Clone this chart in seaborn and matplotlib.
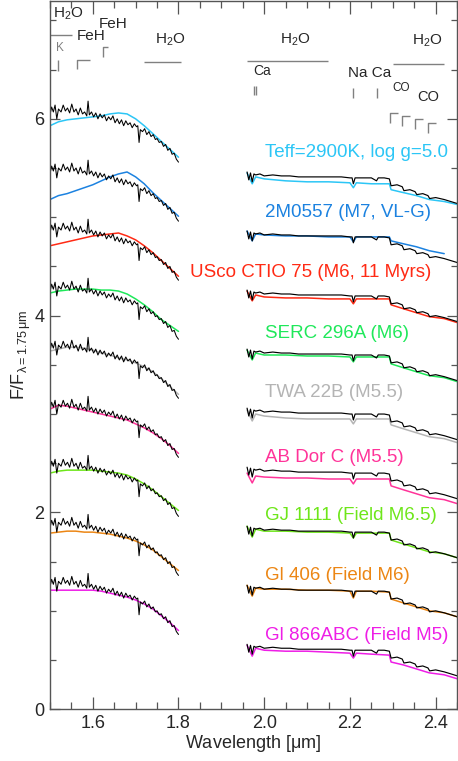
import numpy as np
import matplotlib
matplotlib.use("Agg")
import matplotlib.pyplot as plt
from matplotlib.ticker import MultipleLocator
import seaborn as sns

sns.set_theme(style="ticks")
plt.rcParams["font.family"] = ["Liberation Sans", "DejaVu Sans"]
plt.rcParams["mathtext.fontset"] = "custom"
plt.rcParams["mathtext.rm"] = "Liberation Sans"
plt.rcParams["mathtext.it"] = "Liberation Sans:italic"
plt.rcParams["mathtext.default"] = "rm"

# ---------------- data ----------------
NAMES = ["Teff=2900K, log g=5.0", "2M0557 (M7, VL-G)", "USco CTIO 75 (M6, 11 Myrs)",
         "SERC 296A (M6)", "TWA 22B (M5.5)", "AB Dor C (M5.5)",
         "GJ 1111 (Field M6.5)", "Gl 406 (Field M6)", "Gl 866ABC (Field M5)"]
COLORS = ["#2cc6f6", "#1c82e0", "#ff2a14", "#1fe85a", "#b4b4b4", "#ff3399",
          "#6ee61a", "#ec8614", "#ee1ee6"]
OFFSETS = [4.8, 4.2, 3.6, 3.0, 2.4, 1.8, 1.2, 0.6, 0.0]

# object spectrum (black), normalized at 1.75 um
H_WAVE_OBJ = [1.500, 1.504, 1.508, 1.512, 1.516, 1.520, 1.526, 1.531, 1.536, 1.541,
              1.546, 1.551, 1.556, 1.561, 1.566, 1.571, 1.576, 1.581, 1.586, 1.589,
              1.592, 1.597, 1.602, 1.607, 1.612, 1.617, 1.622, 1.627, 1.632, 1.637,
              1.642, 1.647, 1.652, 1.657, 1.662, 1.667, 1.672, 1.677, 1.682, 1.687,
              1.692, 1.697, 1.702, 1.705, 1.708, 1.711, 1.716, 1.721, 1.726, 1.731,
              1.736, 1.741, 1.746, 1.750, 1.755, 1.760, 1.765, 1.770, 1.775, 1.780,
              1.785, 1.790, 1.795, 1.800]
H_FLUX_OBJ = [1.24, 1.32, 1.27, 1.34, 1.20, 1.30, 1.27, 1.34, 1.28, 1.31,
              1.26, 1.35, 1.27, 1.30, 1.24, 1.31, 1.25, 1.27, 1.23, 1.38,
              1.24, 1.27, 1.22, 1.26, 1.20, 1.25, 1.21, 1.24, 1.18, 1.22,
              1.19, 1.23, 1.16, 1.20, 1.15, 1.19, 1.13, 1.18, 1.14, 1.16,
              1.11, 1.15, 1.12, 1.13, 0.96, 1.09, 1.07, 1.10, 1.04, 1.07,
              1.02, 1.04, 0.99, 1.00, 0.96, 0.97, 0.92, 0.94, 0.88, 0.90,
              0.84, 0.85, 0.79, 0.76]
K_WAVE_OBJ = [1.960, 1.964, 1.968, 1.972, 1.976, 1.980, 1.990, 2.000, 2.020, 2.040,
              2.060, 2.080, 2.100, 2.120, 2.140, 2.160, 2.180, 2.200, 2.205, 2.208,
              2.212, 2.230, 2.250, 2.262, 2.266, 2.280, 2.292, 2.296, 2.310, 2.322,
              2.326, 2.340, 2.352, 2.356, 2.370, 2.382, 2.386, 2.400, 2.420, 2.435, 2.450]
K_FLUX_OBJ = [0.66, 0.58, 0.65, 0.56, 0.64, 0.63, 0.64, 0.62, 0.63, 0.62,
              0.62, 0.61, 0.61, 0.61, 0.61, 0.61, 0.61, 0.60, 0.60, 0.54,
              0.60, 0.60, 0.60, 0.57, 0.60, 0.60, 0.59, 0.52, 0.53, 0.51,
              0.47, 0.48, 0.46, 0.43, 0.44, 0.42, 0.39, 0.40, 0.38, 0.36, 0.34]

# comparison spectra (coloured)
H_WAVE_CMP = [1.50, 1.52, 1.54, 1.56, 1.58, 1.60, 1.62, 1.64, 1.66, 1.68,
              1.70, 1.72, 1.74, 1.76, 1.78, 1.80]
H_TEFF   = [1.13, 1.17, 1.19, 1.20, 1.21, 1.22, 1.23, 1.25, 1.26, 1.25, 1.20, 1.13, 1.05, 0.97, 0.89, 0.81]
H_2M0557 = [0.98, 1.02, 1.04, 1.07, 1.10, 1.13, 1.17, 1.21, 1.24, 1.26, 1.21, 1.14, 1.05, 0.97, 0.89, 0.81]
H_USCO   = [1.11, 1.13, 1.15, 1.17, 1.19, 1.21, 1.22, 1.23, 1.24, 1.21, 1.17, 1.11, 1.04, 0.96, 0.88, 0.80]
H_SERC   = [1.23, 1.25, 1.26, 1.27, 1.27, 1.27, 1.26, 1.26, 1.25, 1.22, 1.17, 1.11, 1.04, 0.96, 0.90, 0.84]
H_TWA    = [1.24, 1.26, 1.28, 1.28, 1.27, 1.25, 1.22, 1.20, 1.17, 1.15, 1.12, 1.08, 1.03, 0.96, 0.88, 0.80]
H_ABDOR  = [1.25, 1.29, 1.28, 1.26, 1.24, 1.22, 1.20, 1.18, 1.16, 1.14, 1.10, 1.06, 1.01, 0.95, 0.88, 0.80]
H_GJ1111 = [1.20, 1.22, 1.23, 1.23, 1.23, 1.23, 1.22, 1.21, 1.20, 1.18, 1.14, 1.09, 1.03, 0.96, 0.89, 0.82]
H_GL406  = [1.19, 1.20, 1.21, 1.21, 1.20, 1.20, 1.19, 1.18, 1.16, 1.14, 1.11, 1.07, 1.02, 0.95, 0.88, 0.81]
H_GL866  = [1.21, 1.21, 1.21, 1.21, 1.21, 1.21, 1.20, 1.18, 1.16, 1.14, 1.11, 1.07, 1.02, 0.95, 0.88, 0.80]

K_WAVE_CMP = [1.960, 1.972, 1.980, 2.000, 2.050, 2.100, 2.150, 2.200, 2.208, 2.215,
              2.250, 2.292, 2.296, 2.325, 2.355, 2.385, 2.420, 2.450]
K_TEFF   = [0.65, 0.54, 0.61, 0.59, 0.57, 0.56, 0.56, 0.55, 0.50, 0.55, 0.54, 0.54, 0.48, 0.45, 0.42, 0.38, 0.36, 0.33]
K_2M0557 = [0.66, 0.56, 0.63, 0.62, 0.61, 0.61, 0.60, 0.60, 0.55, 0.60, 0.60, 0.60, 0.56, 0.53, 0.50, 0.46, 0.43, np.nan]
K_USCO   = [0.65, 0.55, 0.61, 0.59, 0.58, 0.58, 0.57, 0.57, 0.52, 0.57, 0.57, 0.57, 0.51, 0.47, 0.43, 0.39, 0.37, 0.33]
K_SERC   = [0.65, 0.55, 0.62, 0.60, 0.60, 0.59, 0.59, 0.58, 0.53, 0.58, 0.58, 0.58, 0.51, 0.47, 0.43, 0.39, 0.37, 0.33]
K_TWA    = [0.64, 0.53, 0.60, 0.58, 0.56, 0.55, 0.55, 0.55, 0.50, 0.55, 0.55, 0.55, 0.49, 0.45, 0.41, 0.37, 0.35, 0.31]
K_ABDOR  = [0.60, 0.50, 0.57, 0.56, 0.55, 0.55, 0.54, 0.54, 0.49, 0.54, 0.54, 0.54, 0.47, 0.43, 0.39, 0.35, 0.33, 0.29]
K_GJ1111 = [0.66, 0.55, 0.63, 0.61, 0.61, 0.60, 0.60, 0.59, 0.54, 0.59, 0.59, 0.59, 0.52, 0.48, 0.44, 0.40, 0.38, 0.34]
K_GL406  = [0.66, 0.55, 0.63, 0.62, 0.62, 0.61, 0.61, 0.60, 0.53, 0.60, 0.60, 0.59, 0.52, 0.48, 0.44, 0.40, 0.38, 0.34]
K_GL866  = [0.65, 0.54, 0.62, 0.60, 0.59, 0.59, 0.58, 0.57, 0.52, 0.57, 0.56, 0.55, 0.48, 0.45, 0.41, 0.37, 0.35, 0.31]

H_CMP = [H_TEFF, H_2M0557, H_USCO, H_SERC, H_TWA, H_ABDOR, H_GJ1111, H_GL406, H_GL866]
K_CMP = [K_TEFF, K_2M0557, K_USCO, K_SERC, K_TWA, K_ABDOR, K_GJ1111, K_GL406, K_GL866]

# label anchor (left edge wavelength, y value)
LABEL_X = [2.002, 2.002, 1.827, 2.002, 2.002, 2.002, 2.002, 2.002, 2.002]
LABEL_Y = [5.66, 5.05, 4.44, 3.82, 3.22, 2.56, 1.97, 1.36, 0.75]

# ---------------- figure ----------------
fig = plt.figure(figsize=(4.58, 7.61), dpi=100)
ax = fig.add_axes([0.109, 0.068, 0.889, 0.931])

for i in range(len(NAMES)):
    off = OFFSETS[i]
    c = COLORS[i]
    sns.lineplot(x=H_WAVE_CMP, y=np.array(H_CMP[i]) + off, ax=ax, color=c, lw=1.1,
                 estimator=None, sort=False)
    sns.lineplot(x=K_WAVE_CMP, y=np.array(K_CMP[i]) + off, ax=ax, color=c, lw=1.1,
                 estimator=None, sort=False)
    sns.lineplot(x=H_WAVE_OBJ, y=np.array(H_FLUX_OBJ) + off, ax=ax, color="black", lw=0.75,
                 estimator=None, sort=False)
    sns.lineplot(x=K_WAVE_OBJ, y=np.array(K_FLUX_OBJ) + off, ax=ax, color="black", lw=0.85,
                 estimator=None, sort=False)
    ax.text(LABEL_X[i], LABEL_Y[i], NAMES[i], color=c, fontsize=13.5,
            ha="left", va="center")

# ---------------- feature annotations ----------------
G = "#808080"
def seg(xs, ys):
    ax.plot(xs, ys, color=G, lw=1.0, solid_capstyle="butt")

ax.text(1.507, 7.07, "H$_2$O", fontsize=11, ha="left", va="center")
seg([1.50, 1.551], [6.85, 6.85])
ax.text(1.514, 6.72, "K", fontsize=8.5, color=G, ha="left", va="center")
seg([1.519, 1.519], [6.60, 6.49])
ax.text(1.563, 6.84, "FeH", fontsize=11, ha="left", va="center")
seg([1.563, 1.563, 1.593], [6.51, 6.60, 6.60])
ax.text(1.614, 6.96, "FeH", fontsize=11, ha="left", va="center")
seg([1.624, 1.624, 1.635], [6.63, 6.73, 6.73])
ax.text(1.745, 6.80, "H$_2$O", fontsize=11, ha="left", va="center")
seg([1.719, 1.806], [6.58, 6.58])

ax.text(2.037, 6.80, "H$_2$O", fontsize=11, ha="left", va="center")
seg([1.960, 2.149], [6.59, 6.59])
ax.text(1.974, 6.49, "Ca", fontsize=10, ha="left", va="center")
seg([1.976, 1.976], [6.33, 6.24])
seg([1.981, 1.981], [6.33, 6.24])
ax.text(2.196, 6.47, "Na Ca", fontsize=11, ha="left", va="center")
seg([2.207, 2.207], [6.31, 6.21])
seg([2.263, 2.263], [6.31, 6.21])
ax.text(2.345, 6.79, "H$_2$O", fontsize=11, ha="left", va="center")
seg([2.300, 2.420], [6.56, 6.56])
ax.text(2.298, 6.31, "CO", fontsize=8.5, ha="left", va="center")
ax.text(2.357, 6.22, "CO", fontsize=10.5, ha="left", va="center")
for bx, by in zip([2.294, 2.322, 2.352, 2.382], [6.06, 6.03, 6.00, 5.96]):
    seg([bx, bx, bx + 0.019], [by - 0.10, by, by])

# ---------------- axes ----------------
ax.set_xlim(1.5, 2.45)
ax.set_ylim(0, 7.2)
ax.set_xticks([1.6, 1.8, 2.0, 2.2, 2.4])
ax.set_xticklabels(["1.6", "1.8", "2.0", "2.2", "2.4"])
ax.set_yticks([0, 2, 4, 6])
ax.set_yticklabels(["0", "2", "4", "6"])
ax.xaxis.set_minor_locator(MultipleLocator(0.05))
ax.yaxis.set_minor_locator(MultipleLocator(0.5))
ax.tick_params(which="both", direction="in", top=True, right=True, color="#555555",
               labelsize=13, pad=4)
ax.tick_params(axis="x", which="major", length=9, width=0.9)
ax.tick_params(axis="x", which="minor", length=5, width=0.9)
ax.tick_params(axis="y", which="major", length=7, width=0.9)
ax.tick_params(axis="y", which="minor", length=4.5, width=0.9)
for s in ax.spines.values():
    s.set_color("#555555")
    s.set_linewidth(1.0)
ax.set_xlabel(r"Wavelength [$\mu$m]", fontsize=13, labelpad=1)
ax.set_ylabel(r"F/F$_{\lambda=1.75\,\mu\mathrm{m}}$", fontsize=13, labelpad=1)

fig.savefig("out.png", dpi=100)
